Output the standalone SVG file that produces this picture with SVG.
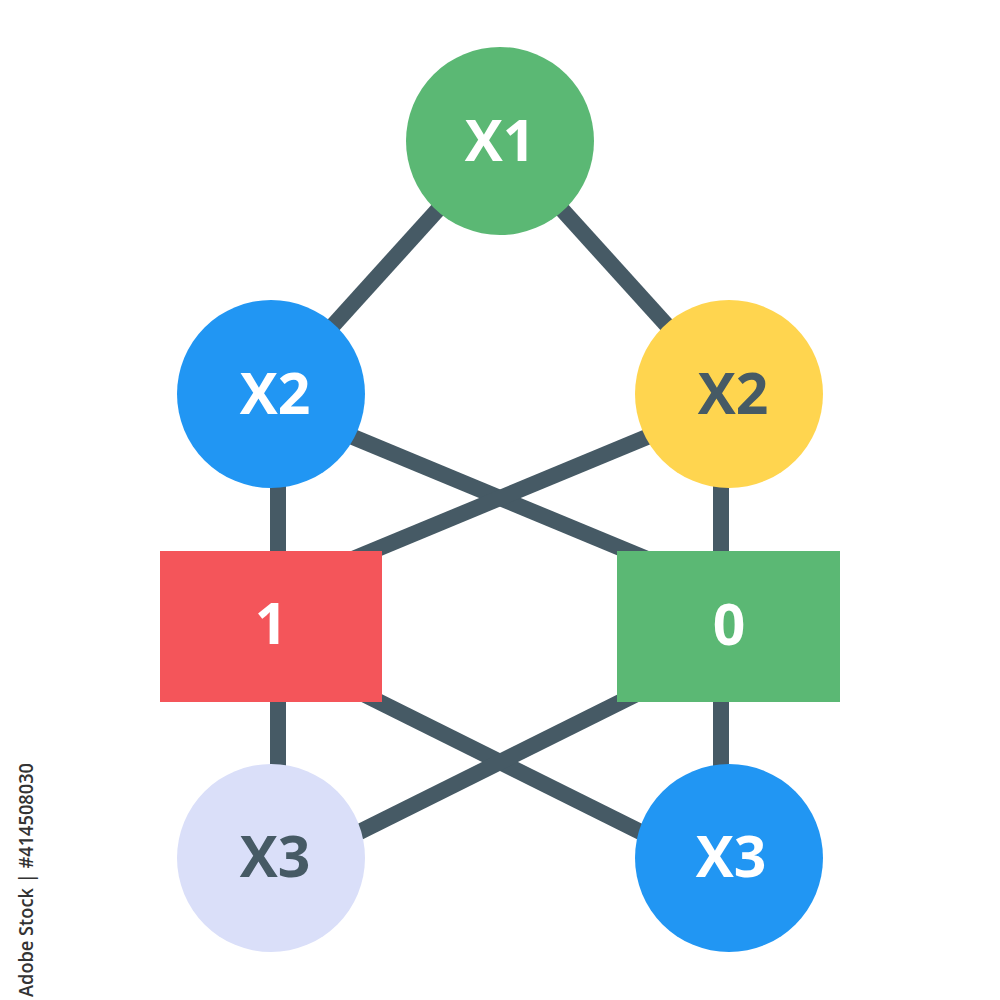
<svg xmlns="http://www.w3.org/2000/svg" width="1000" height="1000" viewBox="0 0 1000 1000">
  <style>
    .edge { stroke: #465a65; stroke-width: 16; fill: none; }
    .lbl { font-family: "Open Sans", "Liberation Sans", sans-serif; font-weight: 700; font-size: 57px; text-anchor: middle; }
    .light { fill: #ffffff; }
    .dark { fill: #465a65; }
    .wm { font-family: "Open Sans", "Liberation Sans", sans-serif; font-size: 20px; font-weight: 600; fill: #333333; }
  </style>
  <rect width="1000" height="1000" fill="#ffffff"/>
  <g id="connectors">
    <line class="edge" x1="500" y1="141" x2="271" y2="394"/>
    <line class="edge" x1="500" y1="141" x2="729" y2="394"/>
    <line class="edge" x1="278" y1="420" x2="278" y2="600"/>
    <line class="edge" x1="721" y1="420" x2="721" y2="600"/>
    <line class="edge" x1="271" y1="403" x2="729" y2="593"/>
    <line class="edge" x1="729" y1="403" x2="271" y2="593"/>
    <line class="edge" x1="278" y1="650" x2="278" y2="830"/>
    <line class="edge" x1="721" y1="650" x2="721" y2="830"/>
    <line class="edge" x1="271" y1="648" x2="729" y2="876"/>
    <line class="edge" x1="729" y1="648" x2="271" y2="876"/>
  </g>
  <g id="node-x1">
    <circle cx="500" cy="141" r="94" fill="#5bb874"/>
    <text class="lbl light" x="500" y="161">X1</text>
  </g>
  <g id="node-x2-left">
    <circle cx="271" cy="394" r="94" fill="#2196f3"/>
    <text class="lbl light" x="275" y="414">X2</text>
  </g>
  <g id="node-x2-right">
    <circle cx="729" cy="394" r="94" fill="#ffd54f"/>
    <text class="lbl dark" x="733" y="414">X2</text>
  </g>
  <g id="node-1">
    <rect x="160" y="551" width="222" height="151" fill="#f4555a"/>
    <text class="lbl light" x="271" y="644">1</text>
  </g>
  <g id="node-0">
    <rect x="617" y="551" width="223" height="151" fill="#5bb874"/>
    <text class="lbl light" x="729" y="645">0</text>
  </g>
  <g id="node-x3-left">
    <circle cx="271" cy="858" r="94" fill="#dadff9"/>
    <text class="lbl dark" x="275" y="877">X3</text>
  </g>
  <g id="node-x3-right">
    <circle cx="729" cy="858" r="94" fill="#2196f3"/>
    <text class="lbl light" x="731" y="877">X3</text>
  </g>
  <text class="wm" transform="translate(33,997) rotate(-90)" x="0" y="0" textLength="234" lengthAdjust="spacingAndGlyphs">Adobe Stock | #414508030</text>
</svg>
